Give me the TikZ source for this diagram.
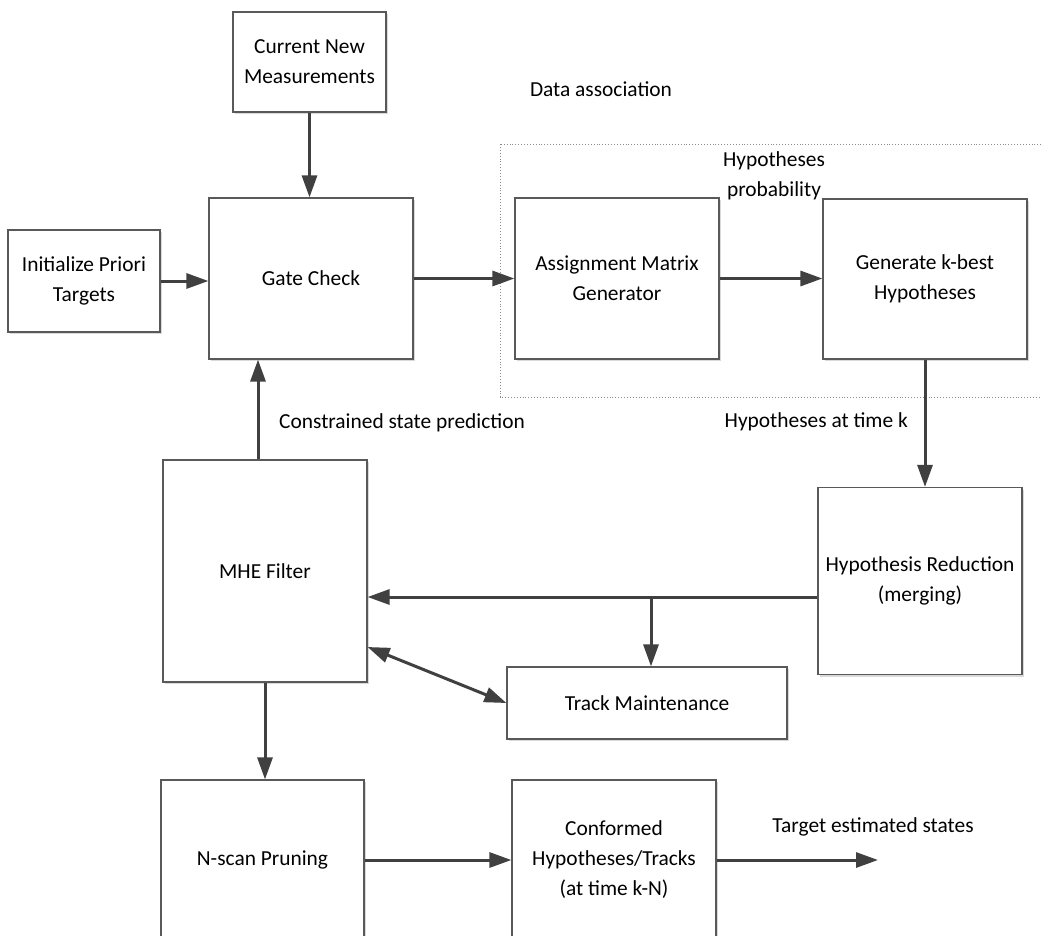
\documentclass[tikz,border=0pt]{standalone}
\usepackage{fontspec}
\setmainfont{Carlito}
\usetikzlibrary{arrows.meta,shadows}

\begin{document}
\begin{tikzpicture}[x=1pt, y=-1pt,
    font=\fontsize{21.4}{30}\selectfont,
    >={Triangle[length=22pt,width=15pt]},
    block/.style ={draw=black!65, line width=1.2pt, fill=white, align=center, inner sep=0pt,
      minimum width=204pt,
      drop shadow={shadow xshift=2pt, shadow yshift=-2pt, opacity=0.15, fill=black}},
    flow/.style ={draw=black!75, line width=3pt, ->},
    note/.style ={align=center, inner sep=0pt}]
   \useasboundingbox (0,0) rectangle (1041,935);
   \clip (0,0) rectangle (1041,935);
   % data association frame
   \draw[black!45, dotted, line width=0.9pt] (500,144) rectangle (1070,397);
   \node[block, minimum width=153pt, minimum height=100pt] (meas) at (309.5,62) {Current New\\Measurements};
   \node[block, minimum width=152pt, minimum height=102pt] (init) at (84,281) {Initialize Priori\\Targets};
   \node[block, minimum height=161pt] (gate) at (311,278.5) {Gate Check};
   \node[block, minimum height=161pt] (assign) at (617,278.5) {Assignment Matrix\\Generator};
   \node[block, minimum height=160pt] (kbest) at (925,279) {Generate k-best\\Hypotheses};
   \node[block, minimum height=222pt] (mhe) at (265,571) {MHE Filter};
   \node[block, minimum height=187pt] (hypred) at (920,581) {Hypothesis Reduction\\(merging)};
   \node[block, minimum width=280pt, minimum height=72pt] (trackm) at (647,703) {Track Maintenance};
   \node[block, minimum width=203pt, minimum height=160pt] (prune) at (262.5,860) {N-scan Pruning};
   \node[block, minimum height=160pt] (confirm) at (614,860) {Conformed\\Hypotheses/Tracks\\(at time k-N)};
   % labels
   \node[note] (dataassoc) at (601,89) {Data association};
   \node[note] (hypprob) at (774,176) {Hypotheses\\probability};
   \node[note, anchor=west] (constr) at (279,423) {Constrained state prediction};
   \node[note, anchor=east] (hypk) at (908,422) {Hypotheses at time k};
   \node[note] (target) at (873,827) {Target estimated states};
   % connectors
   \coordinate (split) at (651,597);
   \coordinate (out) at (878,860);
   \draw[flow] (meas.south) to (meas.south |- gate.north);
   \draw[flow] (init.east) to (init.east -| gate.west);
   \draw[flow] (gate.east) to (gate.east -| assign.west);
   \draw[flow] (assign.east) to (assign.east -| kbest.west);
   \draw[flow] (kbest.south) to (kbest.south |- hypred.north);
   \draw[flow] (hypred.west |- split) to (mhe.east |- split);
   \draw[flow] (split) to (split |- trackm.north);
   \draw[flow, <->] ([yshift=-76pt]mhe.east) to (trackm.west);
   \draw[flow] ([xshift=-7pt]mhe.north) to ([xshift=-7pt]mhe.north |- gate.south);
   \draw[flow] (mhe.south) to (mhe.south |- prune.north);
   \draw[flow] (prune.east) to (prune.east -| confirm.west);
   \draw[flow] (confirm.east) to (out);
\end{tikzpicture}
\end{document}
